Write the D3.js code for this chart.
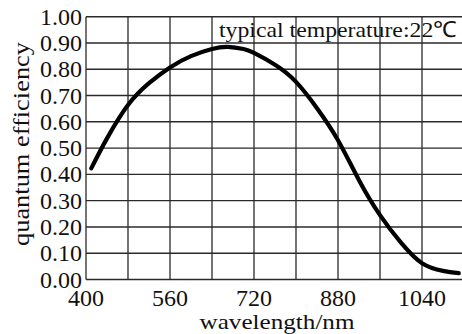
<!DOCTYPE html>
<html>
<head>
<meta charset="utf-8">
<script src="https://cdn.jsdelivr.net/npm/d3@7"></script>
<style>
  html, body { margin: 0; padding: 0; background: #fff; }
  svg { display: block; }
  text { font-family: "Liberation Serif", "Times New Roman", serif; fill: #111; }
</style>
</head>
<body>
<svg id="chart" width="462" height="334"></svg>
<script>
// Data
const wavelengths = [410, 440, 480, 520, 560, 600, 640, 670, 700, 720, 760, 800, 840, 880, 920, 960, 1000, 1040, 1080, 1110];
const efficiency  = [0.423, 0.537, 0.664, 0.747, 0.807, 0.850, 0.877, 0.885, 0.877, 0.862, 0.817, 0.752, 0.652, 0.530, 0.378, 0.245, 0.140, 0.062, 0.033, 0.024];
const xTicks = [400, 560, 720, 880, 1040];
const xGrid = [400, 480, 560, 640, 720, 800, 880, 960, 1040, 1120];
const yTicks = [0, 0.1, 0.2, 0.3, 0.4, 0.5, 0.6, 0.7, 0.8, 0.9, 1.0];
const xTitle = "wavelength/nm";
const yTitle = "quantum efficiency";
const note = "typical temperature:22\u2103";

const svg = d3.select("#chart");
const x = d3.scaleLinear().domain([400, 1120]).range([86, 464]);
const y = d3.scaleLinear().domain([0, 1]).range([279.5, 16.7]);

// grid
svg.append("g").selectAll("line").data(yTicks).join("line")
  .attr("x1", x(400)).attr("x2", x(1120))
  .attr("y1", d => y(d)).attr("y2", d => y(d))
  .attr("stroke", "#2a2a2a").attr("stroke-width", 1.4);
svg.append("g").selectAll("line").data(xGrid).join("line")
  .attr("x1", d => x(d)).attr("x2", d => x(d))
  .attr("y1", y(0)).attr("y2", y(1))
  .attr("stroke", "#2a2a2a").attr("stroke-width", 1.3);

// y tick labels
svg.append("g").selectAll("text").data(yTicks).join("text")
  .attr("x", 82).attr("y", d => y(d) + 8)
  .attr("text-anchor", "end")
  .attr("font-size", 24)
  .text(d => d3.format(".2f")(d));

// x tick labels
svg.append("g").selectAll("text").data(xTicks).join("text")
  .attr("x", d => x(d)).attr("y", 306)
  .attr("text-anchor", "middle")
  .attr("font-size", 24)
  .text(d => d);

// axis titles
svg.append("text")
  .attr("x", 277).attr("y", 329)
  .attr("text-anchor", "middle")
  .attr("font-size", 22)
  .attr("textLength", 155).attr("lengthAdjust", "spacingAndGlyphs")
  .text(xTitle);
svg.append("text")
  .attr("transform", "translate(29,144) rotate(-90)")
  .attr("text-anchor", "middle")
  .attr("font-size", 23)
  .attr("textLength", 204).attr("lengthAdjust", "spacingAndGlyphs")
  .text(yTitle);

// annotation
svg.append("text")
  .attr("x", 219).attr("y", 37)
  .attr("font-size", 22)
  .attr("textLength", 238).attr("lengthAdjust", "spacingAndGlyphs")
  .text(note);

// curve
const line = d3.line()
  .x((d, i) => x(wavelengths[i]))
  .y(d => y(d))
  .curve(d3.curveNatural);
svg.append("path")
  .datum(efficiency)
  .attr("d", line)
  .attr("fill", "none")
  .attr("stroke", "#000")
  .attr("stroke-width", 4.2)
  .attr("stroke-linecap", "round");
</script>
</body>
</html>
